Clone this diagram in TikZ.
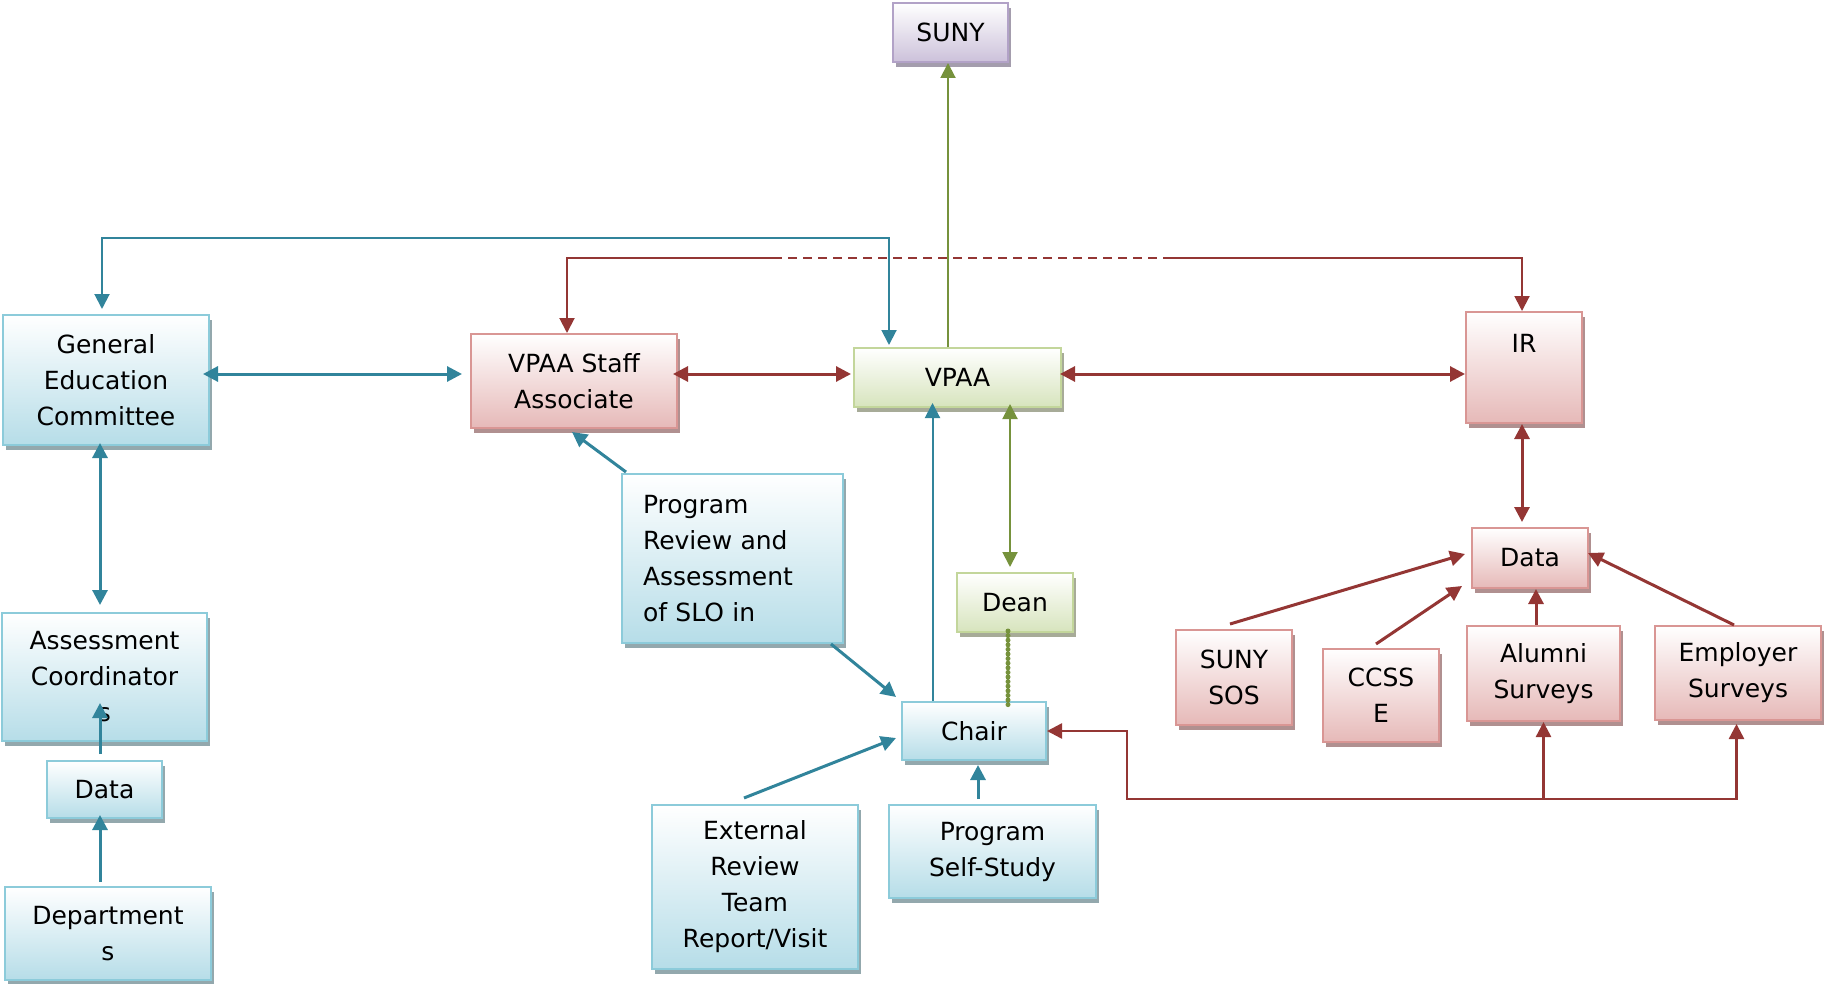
\documentclass[tikz,border=0pt]{standalone}
\usepackage{fontspec}
\setmainfont{DejaVu Sans}
\usetikzlibrary{arrows.meta,shadows}

% connector colours
\definecolor{lnBlue}{HTML}{31849B}
\definecolor{lnRed}{HTML}{943634}
\definecolor{lnGreen}{HTML}{76923C}
% box borders, fills and shadows
\definecolor{bdBlue}{HTML}{8CCBDA}
\definecolor{fiBlue}{HTML}{B6DDE8}
\definecolor{shBlue}{HTML}{93A8AD}
\definecolor{bdRed}{HTML}{D99694}
\definecolor{fiRed}{HTML}{E6B9B8}
\definecolor{shRed}{HTML}{B09090}
\definecolor{bdGreen}{HTML}{C3D69B}
\definecolor{fiGreen}{HTML}{D7E4BD}
\definecolor{shGreen}{HTML}{A7AB98}
\definecolor{bdPurple}{HTML}{B2A2C7}
\definecolor{fiPurple}{HTML}{CCC1DA}
\definecolor{shPurple}{HTML}{A49DAD}

\tikzset{
  box/.style={line width=2pt, inner sep=0pt, align=center,
    font=\fontsize{25}{36}\selectfont, top color=white},
  bluebox/.style={box, draw=bdBlue, bottom color=fiBlue,
    drop shadow={shadow xshift=3pt, shadow yshift=-5pt, fill=shBlue, opacity=1}},
  redbox/.style={box, draw=bdRed, bottom color=fiRed,
    drop shadow={shadow xshift=3pt, shadow yshift=-5pt, fill=shRed, opacity=1}},
  greenbox/.style={box, draw=bdGreen, bottom color=fiGreen,
    drop shadow={shadow xshift=3pt, shadow yshift=-5pt, fill=shGreen, opacity=1}},
  purplebox/.style={box, draw=bdPurple, bottom color=fiPurple,
    drop shadow={shadow xshift=3pt, shadow yshift=-5pt, fill=shPurple, opacity=1}},
  bl/.style={draw=lnBlue, line width=3pt},
  blt/.style={draw=lnBlue, line width=2pt},
  rl/.style={draw=lnRed, line width=3pt},
  rlm/.style={draw=lnRed, line width=2.5pt},
  rlt/.style={draw=lnRed, line width=2pt},
  gl/.style={draw=lnGreen, line width=2pt},
  gdot/.style={draw=lnGreen, line width=5pt, line cap=round, dash pattern=on 0pt off 4.6pt},
}

\begin{document}
\begin{tikzpicture}[x=1pt, y=-1pt, >={Triangle[length=15pt,width=15pt]}]
\useasboundingbox (0,0) rectangle (1825,984);

% ---------- boxes ----------
\node[purplebox, minimum width=115pt, minimum height=59pt] (suny) at (950.5,32.5) {SUNY};
\node[bluebox, minimum width=206pt, minimum height=130pt] (gec) at (106,380) {General\\Education\\Committee};
\node[redbox, minimum width=206pt, minimum height=94pt] (staff) at (574,381) {VPAA Staff\\Associate};
\node[greenbox, minimum width=207pt, minimum height=59pt] (vpaa) at (957.5,377.5) {VPAA};
\node[redbox, minimum width=116pt, text height=40pt, text depth=71pt] (ir) at (1524,367.5) {IR};
\node[bluebox, minimum height=169pt, inner xsep=21pt, text width=179pt, align=left] (prog) at (732.5,558.5)
  {Program\\Review and\\Assessment\\of SLO in};
\node[greenbox, minimum width=116pt, minimum height=59pt] (dean) at (1015,602.5) {Dean};
\node[bluebox, minimum width=144pt, minimum height=58pt] (chair) at (974,731) {Chair};
\node[bluebox, minimum width=205pt, minimum height=128pt] (ac) at (104.5,677) {Assessment\\Coordinator\\s};
\node[bluebox, minimum width=115pt, minimum height=57pt] (dataL) at (104.5,789.5) {Data};
\node[bluebox, minimum width=206pt, minimum height=93pt] (dept) at (108,933.5) {Department\\s};
\node[bluebox, minimum width=206pt, minimum height=164pt] (ext) at (755,887) {External\\Review\\Team\\Report/Visit};
\node[bluebox, minimum width=207pt, minimum height=93pt] (self) at (992.5,851.5) {Program\\Self-Study};
\node[redbox, minimum width=116pt, minimum height=60pt] (dataR) at (1530,558) {Data};
\node[redbox, minimum width=116pt, minimum height=95pt] (sos) at (1234,677.5) {SUNY\\SOS};
\node[redbox, minimum width=116pt, minimum height=93pt] (ccsse) at (1381,695.5) {CCSS\\E};
\node[redbox, minimum width=153pt, minimum height=95pt] (alumni) at (1543.5,673.5) {Alumni\\Surveys};
\node[redbox, minimum width=166pt, minimum height=94pt] (employer) at (1738,673) {Employer\\Surveys};

% ---------- routing points ----------
\coordinate (bt) at (0,238);
\coordinate (rt) at (0,258);
\coordinate (dA) at (773,258);
\coordinate (dB) at (1163,258);
\coordinate (rb) at (1127,799);
\path ([xshift=-4pt]gec.north) coordinate (gecT)
      ([xshift=-68.5pt]vpaa.north) coordinate (vpaaT)
      ([xshift=-7pt]staff.north) coordinate (staffT)
      ([xshift=-2pt]ir.north) coordinate (irT);

% ---------- connectors ----------
% VPAA reports to SUNY
\draw[gl, ->] ([xshift=-9.5pt]vpaa.north) -- ([xshift=-2.5pt]suny.south);
% General Education Committee and VPAA over the top
\draw[blt, <->, shorten <=5pt, shorten >=2pt] (gecT) -- (gecT |- bt) -- (vpaaT |- bt) -- (vpaaT);
% Staff Associate and IR, dashed across the middle
\draw[rlt, <-] (staffT) -- (staffT |- rt) -- (dA);
\draw[rlt, dash pattern=on 9pt off 6pt] (dA) -- (dB);
\draw[rlt, ->] (dB) -- (irT |- rt) -- (irT);
% main row
\draw[bl, <->, shorten >=8pt] ([xshift=-7pt,yshift=6pt]gec.east) -- ([yshift=7pt]staff.west);
\draw[rl, <->] ([xshift=-5pt,yshift=7pt]staff.east) -- ([xshift=-2pt,yshift=3.5pt]vpaa.west);
\draw[rl, <->] ([xshift=-2pt,yshift=3.5pt]vpaa.east) -- ([yshift=-6.5pt]ir.west);
% left column
\draw[bl, <->, shorten >=7pt] ([xshift=-6pt,yshift=3pt]gec.south) -- ([xshift=-4.5pt]ac.north);
\draw[bl, ->, shorten <=6pt] ([xshift=-4.5pt]dataL.north) -- ([xshift=-4.5pt,yshift=39pt]ac.south);
\draw[bl, ->] ([xshift=-8pt,yshift=4pt]dept.north) -- ([xshift=-4.5pt,yshift=4pt]dataL.south);
% program review
\draw[bl, ->] ([xshift=5pt,yshift=1pt]prog.north west) -- ([xshift=-2pt,yshift=-3pt]staff.south);
\draw[bl, ->] ([xshift=-13pt]prog.south east) -- ([xshift=-5pt,yshift=4pt]chair.north west);
% chair inputs and outputs
\draw[bl, ->] ([xshift=-11pt,yshift=6pt]ext.north) -- ([xshift=-5pt,yshift=-7pt]chair.west);
\draw[bl, ->] ([xshift=-14.5pt,yshift=5pt]self.north) -- ([xshift=4pt,yshift=-4pt]chair.south);
\draw[blt, ->] ([xshift=-41.5pt]chair.north) -- ([xshift=-25pt,yshift=5pt]vpaa.south);
\draw[gl, <->] ([xshift=52.5pt,yshift=4pt]vpaa.south) -- ([xshift=-5pt,yshift=5pt]dean.north);
\draw[gdot] ([xshift=-7pt,yshift=2pt]dean.south) -- ([xshift=34pt,yshift=-4pt]chair.north);
% surveys back to the chair
\draw[rlm, <->] (chair.east) -| (rb) -| (alumni.south);
\draw[rlm, ->] (alumni.south |- rb) -| ([xshift=-1.5pt,yshift=-3pt]employer.south);
% IR and data sources
\draw[rl, <->, shorten >=5pt] ([xshift=-2pt]ir.south) -- ([xshift=-8pt]dataR.north);
\draw[rl, ->] ([xshift=-4pt,yshift=5pt]sos.north) -- ([xshift=-6pt,yshift=4pt]dataR.west);
\draw[rl, ->] ([xshift=-5pt,yshift=4pt]ccsse.north) -- ([xshift=-9pt,yshift=3pt]dataR.south west);
\draw[rl, ->] ([xshift=-7.5pt]alumni.north) -- ([xshift=6pt]dataR.south);
\draw[rl, ->] ([xshift=-4pt]employer.north) -- ([xshift=-1pt,yshift=5pt]dataR.east);
\end{tikzpicture}
\end{document}
